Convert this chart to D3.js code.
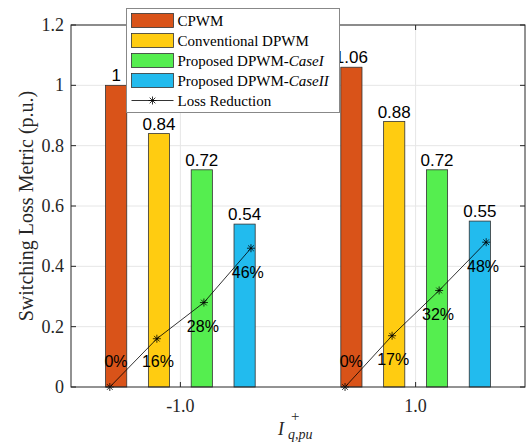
<!DOCTYPE html>
<html>
<head>
<meta charset="utf-8">
<script src="https://cdn.jsdelivr.net/npm/d3@7"></script>
<style>
  body { margin: 0; background: #fff; }
  svg { display: block; }
</style>
</head>
<body>
<svg id="chart"></svg>
<script>
// chart data
const categories = [-1.0, 1.0];
const categoryLabels = ["-1.0", "1.0"];
const seriesNames = ["CPWM", "Conventional DPWM", "Proposed DPWM-", "Proposed DPWM-"];
const seriesItalic = ["", "", "CaseI", "CaseII"];
const cpwm = [1, 1.06];
const conventionalDpwm = [0.84, 0.88];
const caseI = [0.72, 0.72];
const caseII = [0.54, 0.55];
const lossReduction = [[0, 16, 28, 46], [0, 17, 32, 48]];
const yTicks = [0, 0.2, 0.4, 0.6, 0.8, 1, 1.2];
const yTickLabels = ["0", "0.2", "0.4", "0.6", "0.8", "1", "1.2"];

const colors = ["#D95319", "#FFCC11", "#55EE4F", "#22BBEE"];
const series = [cpwm, conventionalDpwm, caseI, caseII];

var width = 527,
    height = 446,
    plotLeft = 71, plotRight = 525, plotTop = 25, plotBottom = 387;

const svg = d3.select("#chart").attr("width", width).attr("height", height);

let x = d3.scaleLinear().domain([-1.93, 1.93]).range([plotLeft, plotRight]);
let y = d3.scaleLinear().domain([0, 1.2]).range([plotBottom, plotTop]);

const barStep = 0.364, barWidth = 0.18, lineStep = 0.4;
const axisColor = "#262626";
const serif = "'Liberation Serif', 'Times New Roman', serif";
const sans = "'Liberation Sans', Arial, sans-serif";

// grid
svg.append("g").selectAll("line")
    .data(yTicks.slice(1))
    .enter().append("line")
    .attr("x1", plotLeft).attr("x2", plotRight)
    .attr("y1", d => y(d)).attr("y2", d => y(d))
    .attr("stroke", "#e6e6e6").attr("stroke-width", 1);
svg.append("g").selectAll("line")
    .data(categories)
    .enter().append("line")
    .attr("x1", d => x(d)).attr("x2", d => x(d))
    .attr("y1", plotTop).attr("y2", plotBottom)
    .attr("stroke", "#e6e6e6").attr("stroke-width", 1);

// bars
series.forEach(function(vals, i) {
    svg.append("g").selectAll("rect")
        .data(vals)
        .enter().append("rect")
        .attr("x", (d, j) => x(categories[j] + (i - 1.5) * barStep - barWidth / 2))
        .attr("width", x(barWidth) - x(0))
        .attr("y", d => y(d))
        .attr("height", d => y(0) - y(d))
        .attr("fill", colors[i])
        .attr("stroke", "#333")
        .attr("stroke-width", 0.8);

    svg.append("g").selectAll("text")
        .data(vals)
        .enter().append("text")
        .attr("x", (d, j) => x(categories[j] + (i - 1.5) * barStep))
        .attr("y", d => y(d) - 4)
        .attr("text-anchor", "middle")
        .style("font-family", sans)
        .style("font-size", "17px")
        .text(d => d);
});

function starPath(cx, cy, r) {
    let d = "";
    for (let k = 0; k < 4; k++) {
        let a = k * Math.PI / 4;
        d += "M" + (cx - r * Math.cos(a)) + "," + (cy - r * Math.sin(a)) +
             "L" + (cx + r * Math.cos(a)) + "," + (cy + r * Math.sin(a));
    }
    return d;
}

// loss reduction line
let line = d3.line().x(d => x(d.x)).y(d => y(d.v / 100));
lossReduction.forEach(function(vals, j) {
    let pts = vals.map((v, i) => ({ x: categories[j] + (i - 1.5) * lineStep, v: v, i: i }));
    svg.append("path")
        .datum(pts)
        .attr("d", line)
        .attr("fill", "none")
        .attr("stroke", "#000")
        .attr("stroke-width", 0.8);
    svg.append("g").selectAll("path")
        .data(pts)
        .enter().append("path")
        .attr("d", d => starPath(x(d.x), y(d.v / 100), 4))
        .attr("stroke", "#000")
        .attr("stroke-width", 0.8);
    svg.append("g").selectAll("text")
        .data(pts)
        .enter().append("text")
        .attr("x", d => (x(d.x) + x(categories[j] + (d.i - 1.5) * barStep)) / 2 + (d.v === 0 ? 3 : 0))
        .attr("y", d => y(Math.max(d.v / 100 - 0.08, 0.084)))
        .attr("dy", "0.35em")
        .attr("text-anchor", "middle")
        .style("font-family", sans)
        .style("font-size", "16px")
        .text(d => d.v + "%");
});

// axes box
svg.append("rect")
    .attr("x", plotLeft).attr("y", plotTop)
    .attr("width", plotRight - plotLeft).attr("height", plotBottom - plotTop)
    .attr("fill", "none").attr("stroke", axisColor).attr("stroke-width", 1);

// ticks
yTicks.forEach(function(t, k) {
    svg.append("line").attr("x1", plotLeft).attr("x2", plotLeft + 5)
        .attr("y1", y(t)).attr("y2", y(t)).attr("stroke", axisColor);
    svg.append("line").attr("x1", plotRight).attr("x2", plotRight - 5)
        .attr("y1", y(t)).attr("y2", y(t)).attr("stroke", axisColor);
    svg.append("text")
        .attr("x", plotLeft - 7).attr("y", y(t)).attr("dy", "0.33em")
        .attr("text-anchor", "end")
        .style("font-family", serif)
        .style("font-size", "18px")
        .attr("fill", axisColor)
        .text(yTickLabels[k]);
});
categories.forEach(function(c, k) {
    svg.append("line").attr("x1", x(c)).attr("x2", x(c))
        .attr("y1", plotBottom).attr("y2", plotBottom - 5).attr("stroke", axisColor);
    svg.append("line").attr("x1", x(c)).attr("x2", x(c))
        .attr("y1", plotTop).attr("y2", plotTop + 5).attr("stroke", axisColor);
    svg.append("text")
        .attr("x", x(c)).attr("y", plotBottom + 25)
        .attr("text-anchor", "middle")
        .style("font-family", serif)
        .style("font-size", "18px")
        .attr("fill", axisColor)
        .text(categoryLabels[k]);
});

// axis titles
svg.append("text")
    .attr("transform", "translate(33," + ((plotTop + plotBottom) / 2) + ") rotate(-90)")
    .attr("text-anchor", "middle")
    .style("font-family", serif)
    .style("font-size", "20px")
    .attr("fill", axisColor)
    .text("Switching Loss Metric (p.u.)");

svg.append("text").attr("x", 278).attr("y", 435)
    .style("font-family", serif).style("font-style", "italic").style("font-size", "18px")
    .attr("fill", axisColor)
    .text("I");
svg.append("text").attr("x", 291).attr("y", 421)
    .style("font-family", serif).style("font-size", "15px")
    .attr("fill", axisColor)
    .text("+");
svg.append("text").attr("x", 288).attr("y", 439)
    .style("font-family", serif).style("font-style", "italic").style("font-size", "14px")
    .attr("fill", axisColor)
    .text("q,pu");

// legend
const legend = svg.append("g");
legend.append("rect")
    .attr("x", 126.5).attr("y", 8.5).attr("width", 213).attr("height", 104)
    .attr("fill", "#fff").attr("stroke", "#888").attr("stroke-width", 1);
seriesNames.forEach(function(name, i) {
    legend.append("rect")
        .attr("x", 131.5).attr("y", 13.5 + 20 * i).attr("width", 42).attr("height", 14)
        .attr("fill", colors[i]).attr("stroke", "#333").attr("stroke-width", 0.8);
    let t = legend.append("text")
        .attr("x", 177.5).attr("y", 20.5 + 20 * i).attr("dy", "0.35em")
        .style("font-family", serif).style("font-size", "15px")
        .text(name);
    if (seriesItalic[i]) t.append("tspan").style("font-style", "italic").text(seriesItalic[i]);
});
legend.append("line")
    .attr("x1", 131.5).attr("x2", 173.5).attr("y1", 100.5).attr("y2", 100.5)
    .attr("stroke", "#000").attr("stroke-width", 0.8);
legend.append("path")
    .attr("d", starPath(152.5, 100.5, 4))
    .attr("stroke", "#000").attr("stroke-width", 0.8);
legend.append("text")
    .attr("x", 177.5).attr("y", 100.5).attr("dy", "0.35em")
    .style("font-family", serif).style("font-size", "15px")
    .text("Loss Reduction");
</script>
</body>
</html>
